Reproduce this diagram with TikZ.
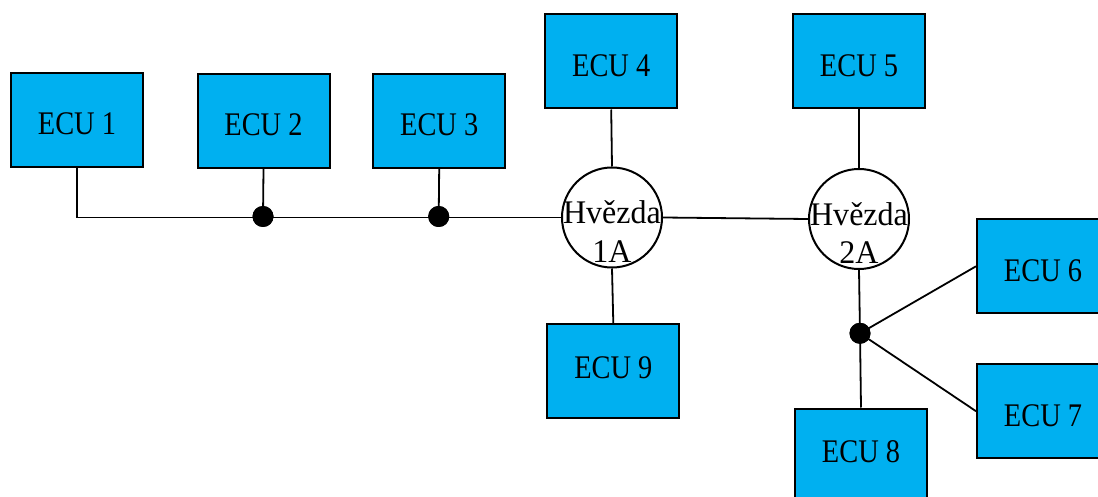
\documentclass[tikz,border=0pt]{standalone}
\usepackage{fontspec}
\setmainfont{Liberation Serif}[FakeStretch=0.86]
\newfontfamily\starfont{Liberation Serif}[FakeStretch=0.97]
\definecolor{ecublue}{HTML}{00B0F0}
\tikzset{
  ecu/.style={draw=black, line width=2pt, fill=ecublue, rectangle,
    minimum width=132pt, minimum height=94pt, inner sep=0pt,
    text height=40pt, text depth=10pt,
    font=\fontsize{33}{38}\selectfont},
  eculow/.style={ecu, text height=24pt, text depth=10pt},
  star/.style={draw=black, line width=2pt, fill=white, circle,
    minimum size=100pt, inner sep=0pt},
  starlbl/.style={anchor=base, inner sep=0pt, font=\starfont\fontsize{33}{38}\selectfont},
  tap/.style={circle, fill=black, minimum size=21pt, inner sep=0pt},
  wire/.style={draw=black, line width=1.8pt}
}
\begin{document}
\begin{tikzpicture}[x=1pt, y=-1pt]
  \clip (0,0) rectangle (1098,497);

  % ECU boxes
  \node[ecu] (e1) at (77,120)      {ECU 1};
  \node[ecu] (e2) at (263.5,121)   {ECU 2};
  \node[ecu] (e3) at (439.2,121)   {ECU 3};
  \node[ecu] (e4) at (611.2,61.5)  {ECU 4};
  \node[ecu] (e5) at (859,61.5)    {ECU 5};
  \node[ecu] (e6) at (1043,266.3)  {ECU 6};
  \node[ecu] (e7) at (1043,411.2)  {ECU 7};
  \node[eculow] (e8) at (861,455.5)   {ECU 8};
  \node[eculow] (e9) at (613.3,371.3) {ECU 9};

  % star couplers
  \node[star] (s1) at (612,217.5) {};
  \node[star] (s2) at (859,219)   {};

  % bus taps
  \node[tap] (d2) at (263,216.5)   {};
  \node[tap] (d3) at (438.7,216.5) {};
  \node[tap] (d4) at (860,333.3)   {};

  % passive bus on the left
  \draw[wire] (e1.south) |- (s1.west);
  \draw[wire] (e2.south) -- (d2.center);
  \draw[wire] (e3.south) -- (d3.center);

  % star links
  \draw[wire] (s1.east) -- (s2.west);
  \draw[wire] (e4.south) -- (s1.north);
  \draw[wire] (e9.north) -- (s1.south);
  \draw[wire] (e5.south) -- (s2.north);
  \draw[wire] (s2.south) -- (d4.center);
  \draw[wire] (d4.center) -- (e6.west);
  \draw[wire] (d4.center) -- (e7.west);
  \draw[wire] (d4.center) -- (e8.north);

  % redraw taps over the wires
  \node[tap] at (d2) {};
  \node[tap] at (d3) {};
  \node[tap] at (d4) {};

  % star labels
  \node[starlbl] (s1a) at (612,224)   {Hvězda};
  \node[starlbl] (s1b) at (612,262)   {1A};
  \node[starlbl] (s2a) at (859,225.5) {Hvězda};
  \node[starlbl] (s2b) at (859,263.5) {2A};
\end{tikzpicture}
\end{document}
